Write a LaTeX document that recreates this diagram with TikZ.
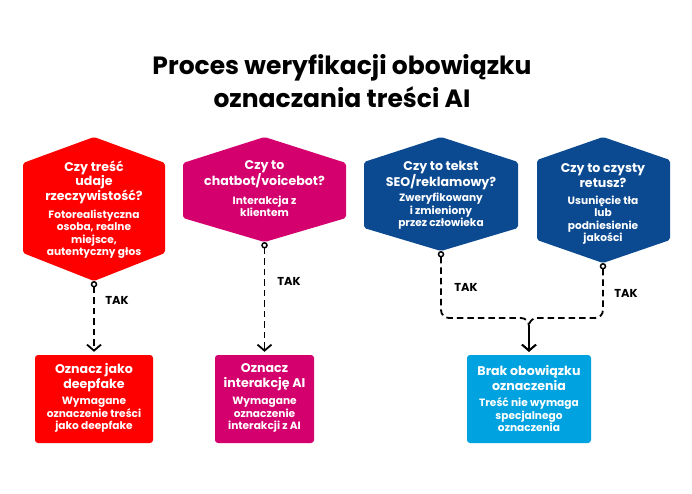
\documentclass[tikz,border=0pt]{standalone}
\usepackage{fontspec}
\setmainfont{Poppins}
\usetikzlibrary{arrows.meta}
\definecolor{cred}{HTML}{FE0000}
\definecolor{cmag}{HTML}{D4006E}
\definecolor{cblue}{HTML}{0B4A91}
\definecolor{ccyan}{HTML}{00A3E0}
\begin{document}
\begin{tikzpicture}[x=1pt,y=-1pt,
 hd/.style={font=\fontsize{12.6}{14.5}\selectfont\bfseries, text=white, align=center, inner sep=0pt},
 sb/.style={font=\fontsize{10.6}{12.5}\selectfont\bfseries, text=white, align=center, inner sep=0pt},
 hexa/.style={fill=#1, rounded corners=2pt},
 box/.style={fill=#1, rounded corners=3pt, minimum height=88pt, inner sep=0pt},
 conn/.style={draw=black, line width=1.8pt, dash pattern=on 6.5pt off 4pt, shorten >=3pt,
   {Circle[open,length=6.5pt,width=6.5pt,fill=white,line width=1.5pt]}-{Straight Barb[length=6pt,width=14pt,line width=1.8pt]}},
 tak/.style={font=\fontsize{11.5}{13}\selectfont\bfseries, text=black, inner sep=0pt}]
\useasboundingbox (0,0) rectangle (692,493);
\fill[white] (0,0) rectangle (692,493);

\node[font=\fontsize{25}{33}\selectfont\bfseries, align=center] (title) at (342,81) {Proces weryfikacji obowiązku\\oznaczania treści AI};

% hexagons
\fill[hexa=cred] (94,137) -- (165,163) -- (165,253) -- (94,281) -- (23,253) -- (23,163) -- cycle;
\coordinate (b1) at (94,281);
\fill[hexa=cmag] (264.5,137) -- (346,163) -- (346,218) -- (264.5,242) -- (183,218) -- (183,163) -- cycle;
\coordinate (b2) at (264.5,242);
\fill[hexa=cblue] (441,137) -- (518,162) -- (518,228) -- (441,251) -- (364,228) -- (364,162) -- cycle;
\coordinate (b3) at (441,251);
\fill[hexa=cblue] (603,137) -- (670,160) -- (670,240) -- (603,263) -- (537,240) -- (537,160) -- cycle;
\coordinate (b4) at (603,263);

\node[hd] (h1) at (94,182) {Czy treść\\udaje\\rzeczywistość?};
\node[sb] (s1) at (94,234) {Fotorealistyczna\\osoba, realne\\miejsce,\\autentyczny głos};
\node[hd] (h2) at (264.5,174.5) {Czy to\\chatbot/voicebot?};
\node[sb] (s2) at (264.5,206.5) {Interakcja z\\klientem};
\node[hd] (h3) at (441,175.5) {Czy to tekst\\SEO/reklamowy?};
\node[sb] (s3) at (441,211.5) {Zweryfikowany\\i zmieniony\\przez człowieka};
\node[hd] (h4) at (603,175.5) {Czy to czysty\\retusz?};
\node[sb] (s4) at (603,220) {Usunięcie tła\\lub\\podniesienie\\jakości};

% result boxes
\node[box=cred, minimum width=118pt] (r1) at (94,399) {};
\node[box=cmag, minimum width=99pt] (r2) at (264.5,399) {};
\node[box=ccyan, minimum width=124pt] (r3) at (529,399) {};
\node[hd, font=\fontsize{12.6}{15}\selectfont\bfseries] (rh1) at (94,377.5) {Oznacz jako\\deepfake};
\node[sb] (rs1) at (94,415) {Wymagane\\oznaczenie treści\\jako deepfake};
\node[hd, font=\fontsize{12.6}{15}\selectfont\bfseries] (rh2) at (264.5,377.5) {Oznacz\\interakcję AI};
\node[sb] (rs2) at (264.5,415) {Wymagane\\oznaczenie\\interakcji z AI};
\node[hd, font=\fontsize{12.6}{15}\selectfont\bfseries] (rh3) at (529,377.5) {Brak obowiązku\\oznaczenia};
\node[sb] (rs3) at (529,415) {Treść nie wymaga\\specjalnego\\oznaczenia};

% connectors
\coordinate (m) at (529,318);
\draw[conn] (b1) -- (r1.north);
\draw[conn] (b2) -- (r2.north);
\draw[conn, rounded corners=8pt] (b3) -- (b3 |- m) -- (m) -- (r3.north);
\draw[conn, rounded corners=8pt] (b4) -- (b4 |- m) -- (m) -- (r3.north);

\node[tak] (t1) at (117,300) {TAK};
\node[tak] (t2) at (289,281) {TAK};
\node[tak] (t3) at (466,287) {TAK};
\node[tak] (t4) at (626,293) {TAK};
\end{tikzpicture}
\end{document}
